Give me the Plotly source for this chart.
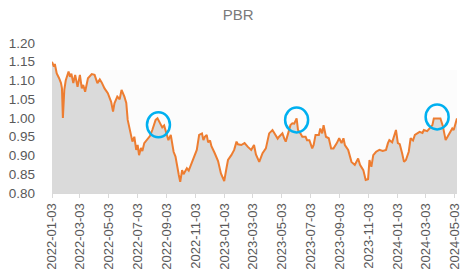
import plotly.graph_objects as go

dates = [
"2022-01-03","2022-01-07","2022-01-09","2022-01-13","2022-01-18","2022-01-22","2022-01-24","2022-01-26","2022-01-29",
"2022-02-01","2022-02-07","2022-02-10","2022-02-13","2022-02-17","2022-02-21","2022-02-26","2022-03-03","2022-03-07",
"2022-03-10","2022-03-14","2022-03-20","2022-03-28","2022-04-03","2022-04-09","2022-04-14","2022-04-18","2022-04-24",
"2022-05-01","2022-05-08","2022-05-12","2022-05-15","2022-05-21","2022-05-26","2022-05-30","2022-06-05","2022-06-09",
"2022-06-12","2022-06-18","2022-06-22","2022-06-26","2022-06-30","2022-07-03","2022-07-06","2022-07-10","2022-07-13",
"2022-07-17","2022-07-24","2022-07-29","2022-08-03","2022-08-10","2022-08-14","2022-08-18","2022-08-24","2022-08-28",
"2022-08-31","2022-09-06","2022-09-11","2022-09-14","2022-09-17","2022-09-21","2022-09-24","2022-09-28","2022-10-01",
"2022-10-05","2022-10-08","2022-10-12","2022-10-15","2022-10-19","2022-10-22","2022-10-29","2022-11-05","2022-11-10",
"2022-11-16","2022-11-19","2022-11-22","2022-11-26","2022-11-29","2022-12-03","2022-12-06","2022-12-13","2022-12-17",
"2022-12-20","2022-12-26","2023-01-02","2023-01-07","2023-01-10","2023-01-17","2023-01-23","2023-01-28","2023-01-31",
"2023-02-07","2023-02-14","2023-02-21","2023-02-28","2023-03-06","2023-03-10","2023-03-17","2023-03-24","2023-03-31",
"2023-04-07","2023-04-14","2023-04-21","2023-04-25","2023-04-28","2023-05-05","2023-05-09","2023-05-12","2023-05-18",
"2023-05-22","2023-05-26","2023-05-30","2023-06-04","2023-06-07","2023-06-12","2023-06-16","2023-06-23","2023-06-26",
"2023-07-01","2023-07-07","2023-07-10","2023-07-14","2023-07-21","2023-07-24","2023-07-28","2023-07-31","2023-08-05",
"2023-08-11","2023-08-16","2023-08-21","2023-08-28","2023-09-02","2023-09-07","2023-09-11","2023-09-14","2023-09-21",
"2023-09-28","2023-10-05","2023-10-12","2023-10-16","2023-10-23","2023-10-28","2023-11-02","2023-11-05","2023-11-09",
"2023-11-13","2023-11-19","2023-11-26","2023-12-03","2023-12-10","2023-12-14","2023-12-17","2023-12-23","2023-12-28",
"2023-12-31","2024-01-04","2024-01-08","2024-01-13","2024-01-17","2024-01-21","2024-01-27","2024-01-31","2024-02-05",
"2024-02-09","2024-02-14","2024-02-19","2024-02-25","2024-02-28","2024-03-06","2024-03-11","2024-03-17","2024-03-20",
"2024-03-27","2024-04-03","2024-04-08","2024-04-14","2024-04-18","2024-04-22","2024-04-28","2024-05-01","2024-05-05",
"2024-05-08",
]

pbr = [
1.150,1.137,1.144,1.119,1.106,1.093,1.080,1.000,1.075,
1.100,1.124,1.110,1.118,1.093,1.115,1.083,1.115,1.079,
1.088,1.070,1.106,1.117,1.115,1.093,1.103,1.095,1.079,
1.066,1.043,1.017,1.039,1.057,1.050,1.075,1.057,1.040,
0.995,0.959,0.937,0.950,0.915,0.928,0.901,0.920,0.912,
0.933,0.946,0.952,0.968,0.995,0.999,0.990,0.975,0.980,
0.965,0.941,0.955,0.933,0.910,0.897,0.870,0.848,0.830,
0.861,0.850,0.862,0.866,0.860,0.870,0.888,0.915,0.955,
0.959,0.941,0.950,0.955,0.935,0.940,0.925,0.906,0.892,
0.885,0.852,0.832,0.868,0.888,0.901,0.915,0.937,0.930,
0.928,0.933,0.923,0.915,0.928,0.903,0.883,0.906,0.919,
0.959,0.968,0.955,0.945,0.950,0.959,0.945,0.937,0.963,
0.981,0.986,0.985,0.999,0.968,0.959,0.950,0.950,0.941,
0.941,0.919,0.928,0.955,0.955,0.972,0.959,0.981,0.950,
0.946,0.919,0.919,0.933,0.946,0.933,0.946,0.928,0.915,
0.883,0.875,0.892,0.875,0.861,0.835,0.837,0.888,0.870,
0.901,0.910,0.915,0.912,0.915,0.933,0.941,0.935,0.955,
0.968,0.933,0.930,0.906,0.883,0.888,0.910,0.946,0.940,
0.955,0.959,0.963,0.960,0.968,0.965,0.972,0.981,0.999,
0.999,0.999,0.979,0.941,0.950,0.959,0.972,0.968,0.990,
0.999,
]

highlight_dates = ["2022-08-16", "2023-06-04", "2024-03-27"]
highlight_values = [0.982, 0.995, 1.003]

y_ticks = [0.80, 0.85, 0.90, 0.95, 1.00, 1.05, 1.10, 1.15, 1.20]

fig = go.Figure()

# very faint background band
fig.add_shape(type="rect", xref="paper", yref="y", x0=0, x1=1, y0=0.80, y1=1.128,
              fillcolor="#fcfcfc", line_width=0, layer="below")

fig.add_trace(go.Scatter(
    x=dates, y=pbr, mode="lines", fill="tozeroy",
    fillcolor="#dadada", line=dict(color="rgba(0,0,0,0)", width=0),
    hoverinfo="skip", showlegend=False,
))
fig.add_trace(go.Scatter(
    x=dates, y=pbr, mode="lines",
    line=dict(color="#ED7D31", width=2),
    showlegend=False, name="PBR",
))

for d, v in zip(highlight_dates, highlight_values):
    fig.add_shape(type="circle", xref="x", yref="y",
                  xsizemode="pixel", ysizemode="pixel",
                  xanchor=d, yanchor=v, x0=-11.5, x1=11.5, y0=-12.5, y1=12.5,
                  line=dict(color="#00B0F0", width=2.5), fillcolor="rgba(0,0,0,0)")

fig.update_layout(
    width=469, height=277,
    margin=dict(l=52, r=7, t=43, b=84),
    paper_bgcolor="white", plot_bgcolor="white",
    font=dict(family="Liberation Sans, Arial, sans-serif", color="#595959", size=13),
    title=dict(text="PBR", x=0.508, xanchor="center", y=0.945, yanchor="middle",
               font=dict(size=15, color="#7a7a7a")),
    xaxis=dict(
        type="date", range=["2022-01-03", "2024-05-08"],
        tick0="2022-01-03", dtick="M2", tickformat="%Y-%m-%d", tickangle=-90,
        ticks="outside", ticklen=4, tickcolor="#d9d9d9",
        showline=True, linecolor="#d9d9d9", linewidth=1,
        showgrid=False, zeroline=False,
        tickfont=dict(size=13, color="#595959"),
    ),
    yaxis=dict(
        range=[0.80, 1.20], tickvals=y_ticks, tickformat=".2f",
        showgrid=False, zeroline=False, showline=False,
        ticklabelstandoff=16,
        tickfont=dict(size=13.5, color="#595959"),
    ),
)

fig.write_html("out.html")
